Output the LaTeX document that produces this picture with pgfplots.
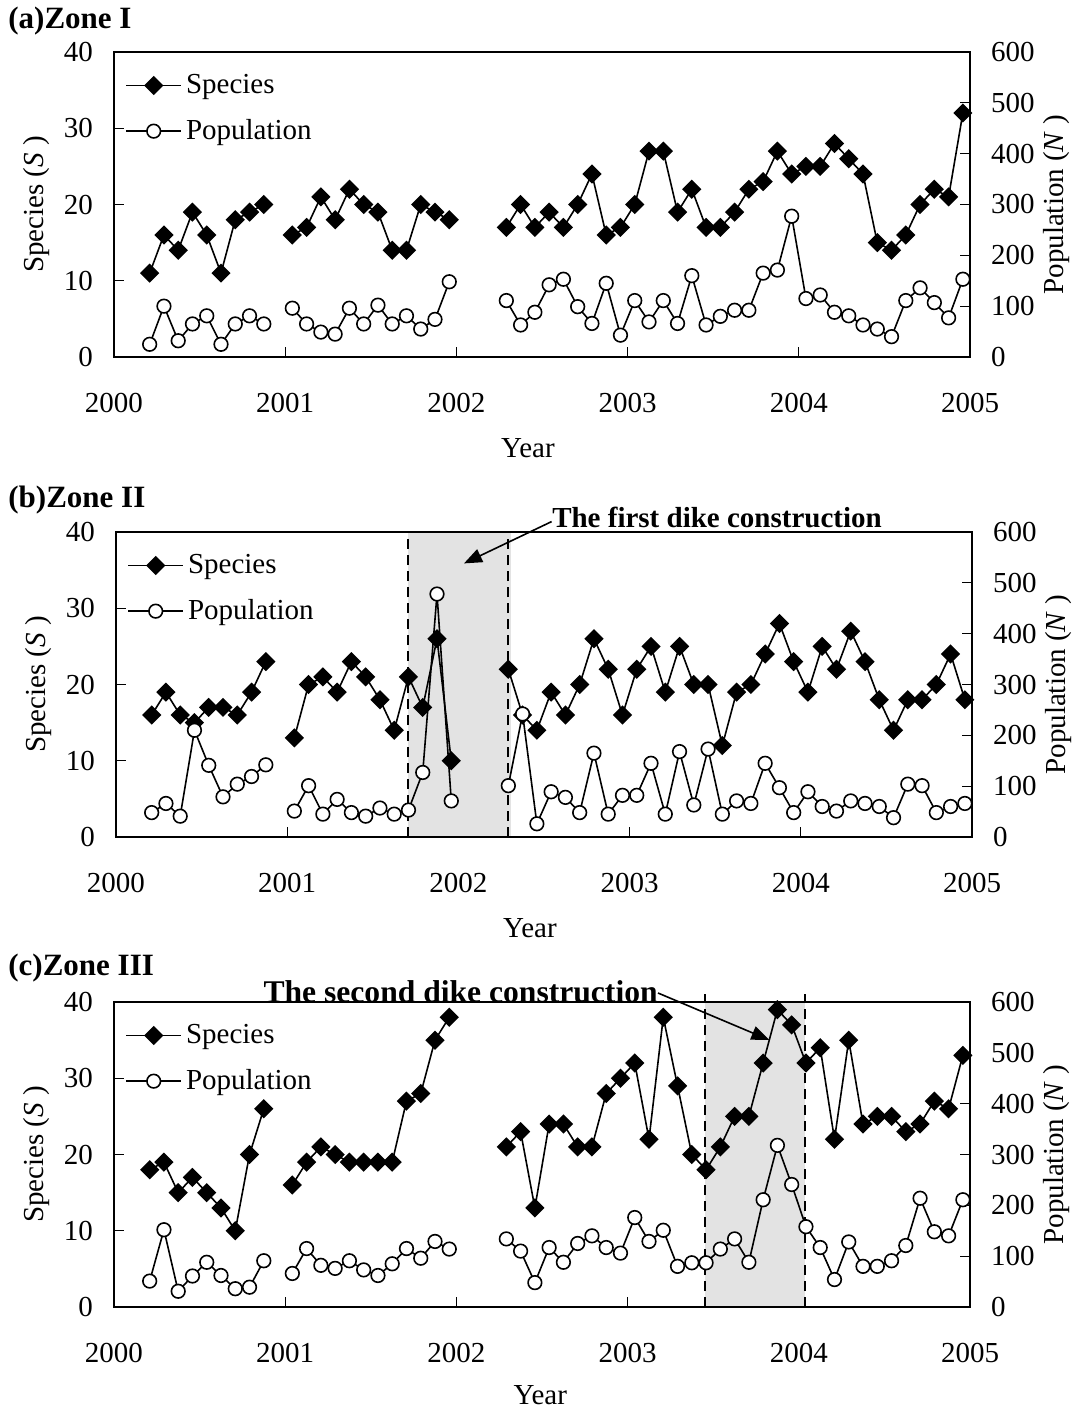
\documentclass[border=0pt]{standalone}
\usepackage{fontspec}
\setmainfont{Liberation Serif}
\usepackage{pgfplots}
\pgfplotsset{compat=1.18}
\usepackage{pgfplotstable}
\usetikzlibrary{arrows.meta}

\newcommand{\fs}{\fontsize{14.5}{17}\selectfont}

% month index: Jan 2000 = 0.5, ..., Dec 2004 = 59.5 ; nan = gap
\pgfplotstableread{
m S N
2.5 11 25
3.5 16 100
4.5 14 32
5.5 19 65
6.5 16 81
7.5 11 25
8.5 18 65
9.5 19 81
10.5 20 65
11.5 nan nan
12.5 16 96
13.5 17 65
14.5 21 49
15.5 18 45
16.5 22 96
17.5 20 65
18.5 19 102
19.5 14 65
20.5 14 81
21.5 20 55
22.5 19 74
23.5 18 148
24.5 nan nan
27.5 17 111
28.5 20 63
29.5 17 88
30.5 19 142
31.5 17 153
32.5 20 99
33.5 24 66
34.5 16 145
35.5 17 43
36.5 20 111
37.5 27 69
38.5 27 111
39.5 19 66
40.5 22 160
41.5 17 63
42.5 17 80
43.5 19 92
44.5 22 92
45.5 23 165
46.5 27 171
47.5 24 277
48.5 25 115
49.5 25 122
50.5 28 88
51.5 26 81
52.5 24 63
53.5 15 55
54.5 14 40
55.5 16 111
56.5 20 136
57.5 22 107
58.5 21 77
59.5 32 153
}\dataA

\pgfplotstableread{
m S N
2.5 16 48
3.5 19 66
4.5 16 41
5.5 15 210
6.5 17 141
7.5 17 79
8.5 16 104
9.5 19 119
10.5 23 142
11.5 nan nan
12.5 13 51
13.5 20 101
14.5 21 45
15.5 19 74
16.5 23 48
17.5 21 41
18.5 18 57
19.5 14 45
20.5 21 53
21.5 17 127
22.5 26 478
23.5 10 71
24.5 nan nan
27.5 22 101
28.5 16 242
29.5 14 26
30.5 19 89
31.5 16 78
32.5 20 48
33.5 26 165
34.5 22 45
35.5 16 82
36.5 22 82
37.5 25 145
38.5 19 45
39.5 25 168
40.5 20 63
41.5 20 173
42.5 12 45
43.5 19 71
44.5 20 66
45.5 24 145
46.5 28 97
47.5 23 48
48.5 19 89
49.5 25 60
50.5 22 51
51.5 27 71
52.5 23 66
53.5 18 60
54.5 14 38
55.5 18 104
56.5 18 101
57.5 20 48
58.5 24 60
59.5 18 66
}\dataB

\pgfplotstableread{
m S N
2.5 18 51
3.5 19 152
4.5 15 31
5.5 17 61
6.5 15 88
7.5 13 62
8.5 10 36
9.5 20 39
10.5 26 91
11.5 nan nan
12.5 16 66
13.5 19 115
14.5 21 82
15.5 20 76
16.5 19 91
17.5 19 73
18.5 19 62
19.5 19 85
20.5 27 115
21.5 28 96
22.5 35 129
23.5 38 114
24.5 nan nan
27.5 21 134
28.5 23 110
29.5 13 48
30.5 24 117
31.5 24 88
32.5 21 125
33.5 21 140
34.5 28 117
35.5 30 106
36.5 32 176
37.5 22 129
38.5 38 151
39.5 29 80
40.5 20 87
41.5 18 87
42.5 21 114
43.5 25 134
44.5 25 88
45.5 32 211
46.5 39 318
47.5 37 241
48.5 32 158
49.5 34 117
50.5 22 54
51.5 35 128
52.5 24 80
53.5 25 80
54.5 25 91
55.5 23 121
56.5 24 214
57.5 27 148
58.5 26 140
59.5 33 211
}\dataC

\tikzset{dike/.style={black, line width=1pt, dash pattern=on 5pt off 3pt}}

\pgfplotsset{
  spec/.style={black, line width=0.8pt, mark=square*, mark size=3pt,
    mark options={rotate=45, fill=black, solid}},
  popn/.style={black, line width=0.8pt, mark=*, mark size=3.4pt,
    mark options={fill=white, solid}},
  base/.style={width=428pt, height=152.5pt, scale only axis, anchor=north west,
    xmin=0, xmax=60, ymin=0, unbounded coords=jump,
    major tick length=5pt,
    tick label style={font=\fs}, label style={font=\fs},
    /pgf/number format/assume math mode=true,
    every tick/.style={black, line width=0.6pt}},
  leftax/.style={base, ymax=40, tick align=inside,
    axis line style={line width=0.9pt},
    xtick={0,12,...,60}, xticklabels={2000,2001,2002,2003,2004,2005},
    xtick pos=left, ytick pos=left,
    ytick={0,10,...,40},
    yticklabel style={xshift=-7pt}, xticklabel style={yshift=-14.5pt},
    xlabel={Year}, ylabel={Species (\textit{S} )},
    xlabel style={at={(axis description cs:0.4836,-0.298)}, anchor=center},
    ylabel style={at={(axis description cs:-0.09,0.5)}, anchor=center}},
  rightax/.style={base, ymax=600, axis x line=none, axis y line*=right,
    tick align=inside, axis line style={line width=0.9pt},
    ytick={0,100,...,600}, ytick pos=right,
    yticklabel style={xshift=7pt},
    ylabel={Population (\textit{N} )},
    ylabel style={at={(axis description cs:1.1016,0.5)}, anchor=center},
    legend style={at={(axis description cs:0,1)}, anchor=north west,
      draw=none, fill=none, font=\fs, inner xsep=0pt, inner ysep=0pt,
      xshift=5.5pt, yshift=-9pt, row sep=7.5pt},
    legend cell align=left,
    legend image code/.code={%
      \draw[mark repeat=2, mark phase=2, ##1] plot coordinates
        {(0pt,0pt) (13.75pt,0pt) (27.5pt,0pt)};}},
}

\begin{document}
\begin{tikzpicture}
\useasboundingbox (0pt,0pt) rectangle (539pt,-706.5pt);

% ---------------- (a) ----------------
\node[anchor=west, inner sep=0pt, font=\fontsize{15.5}{18}\selectfont\bfseries]
  at (4pt,-10.5pt) {(a)Zone I};
\begin{axis}[leftax, at={(57pt,-26pt)}]
\addplot[spec] table[x=m, y=S] {\dataA};
\end{axis}
\begin{axis}[rightax, at={(57pt,-26pt)}]
\addlegendimage{spec}\addlegendentry{Species}
\addplot[popn] table[x=m, y=N] {\dataA};
\addlegendentry{Population}
\end{axis}

% ---------------- (b) ----------------
\node[anchor=west, inner sep=0pt, font=\fontsize{15.5}{18}\selectfont\bfseries]
  at (4pt,-250pt) {(b)Zone II};
\begin{axis}[leftax, at={(58pt,-266pt)}]
\fill[gray!22] (axis cs:20.5,0.12) rectangle (axis cs:27.7,39.88);
\draw[dike] (axis cs:20.5,0) -- (axis cs:20.5,40)
  (axis cs:27.5,0) -- (axis cs:27.5,40);
\addplot[spec] table[x=m, y=S] {\dataB};
\end{axis}
\begin{axis}[rightax, at={(58pt,-266pt)}]
\addlegendimage{spec}\addlegendentry{Species}
\addplot[popn] table[x=m, y=N] {\dataB};
\addlegendentry{Population}
\end{axis}
\node[font=\fontsize{14.5}{17}\selectfont\bfseries, inner sep=0pt]
  at (358.5pt,-258.5pt) {The first dike construction};
\draw[line width=0.8pt, -{Triangle[length=9pt, width=7pt]}]
  (275.8pt,-260.8pt) -- (232pt,-281.7pt);

% ---------------- (c) ----------------
\node[anchor=west, inner sep=0pt, font=\fontsize{15.5}{18}\selectfont\bfseries]
  at (4pt,-484pt) {(c)Zone III};
\begin{axis}[leftax, at={(57pt,-501pt)}, clip=false,
  xlabel style={at={(axis description cs:0.498,-0.29)}}]
\fill[gray!22] (axis cs:41.45,0.12) rectangle (axis cs:48.45,39.88);
\draw[dike] (axis cs:41.45,0) -- (axis cs:41.45,41)
  (axis cs:48.4,0) -- (axis cs:48.4,41);
\addplot[spec] table[x=m, y=S] {\dataC};
\end{axis}
\begin{axis}[rightax, at={(57pt,-501pt)}]
\addlegendimage{spec}\addlegendentry{Species}
\addplot[popn] table[x=m, y=N] {\dataC};
\addlegendentry{Population}
\end{axis}
\node[font=\fontsize{15.8}{18}\selectfont\bfseries, inner sep=0pt]
  at (230.3pt,-496pt) {The second dike construction};
\draw[line width=0.8pt, -{Triangle[length=9pt, width=7pt]}]
  (329pt,-496.5pt) -- (384.7pt,-520pt);
\end{tikzpicture}
\end{document}
